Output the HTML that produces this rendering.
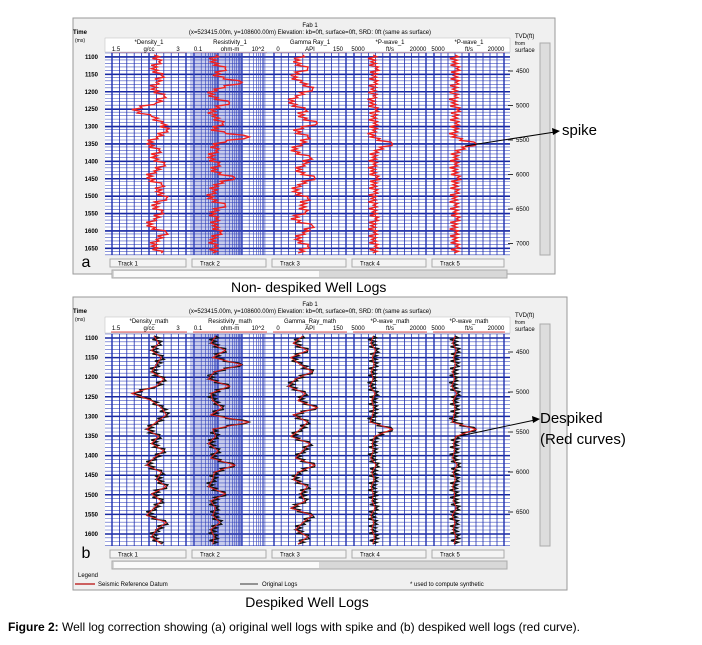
<!DOCTYPE html>
<html><head><meta charset="utf-8"><style>
body{margin:0;background:#fff;width:702px;height:640px;overflow:hidden;font-family:"Liberation Sans",sans-serif}
svg text{font-family:"Liberation Sans",sans-serif}
</style></head><body>
<svg id="fig" width="702" height="640" xmlns="http://www.w3.org/2000/svg">
<text x="307" y="607" font-size="14" text-anchor="middle">Despiked Well Logs</text>
<text x="231" y="292" font-size="14" text-anchor="start">Non- despiked Well Logs</text>
<text x="8" y="631" font-size="12"><tspan font-weight="bold">Figure 2:</tspan> Well log correction showing (a) original well logs with spike and (b) despiked well logs (red curve).</text>
<text x="562" y="135" font-size="15">spike</text>
<line x1="465" y1="146" x2="555" y2="132" stroke="#000" stroke-width="1"/>
<polygon points="560,131 552,128 553,135" fill="#000"/>
<text x="540" y="423" font-size="15">Despiked</text>
<text x="540" y="444" font-size="15">(Red curves)</text>
<line x1="460" y1="436" x2="535" y2="420" stroke="#000"/>
<polygon points="540,419 532,416 533,423" fill="#000"/>
</svg>
<script>
const density=[2.35,2.45,2.3,2.5,2.4,2.3,2.55,2.4,1.9,2.3,2.5,2.6,2.4,2.2,2.45,2.3,2.55,2.35,2.2,2.5,2.4,2.6,2.3,2.5,2.35,2.2,2.6,2.4,2.3,2.5];
const resistivity=[0.8,0.5,2,0.6,10,0.7,0.4,3,0.5,0.6,1.5,0.5,20,0.6,0.8,0.4,1,0.5,5,0.7,0.6,0.4,2,0.5,0.8,0.6,1.2,0.5,0.7,0.6];
const gammaRay=[60,40,70,35,55,80,45,30,65,50,90,40,70,55,35,75,60,45,85,50,40,70,55,65,35,80,60,45,70,50];
const pwave1=[9000,8500,9500,8800,9200,8600,9000,8300,9400,8700,9100,8900,8400,13000,9300,8800,9000,8500,9600,8700,9200,8600,9000,8800,9400,8500,9100,8700,9300,8900];
const pwave2=[9500,9000,9800,9200,9600,9000,9400,8800,9900,9100,9500,9300,8900,14000,9700,9200,9400,9000,10000,9100,9600,9000,9400,9200,9800,8900,9500,9100,9700,9300];
const trackNamesA=["*Density_1","Resistivity_1","Gamma Ray_1","*P-wave_1","*P-wave_1"];
const trackNamesB=["*Density_math","Resistivity_math","Gamma_Ray_math","*P-wave_math","*P-wave_math"];
const unitsMin=["1.5","0.1","0","5000","5000"],unitsMid=["g/cc","ohm-m","API","ft/s","ft/s"],unitsMax=["3","10^2","150","20000","20000"];
const timeTicksA=[1100,1150,1200,1250,1300,1350,1400,1450,1500,1550,1600,1650];
const timeTicksB=[1100,1150,1200,1250,1300,1350,1400,1450,1500,1550,1600];
const tvdTicks=[4500,5000,5500,6000,6500,7000];
const NS="http://www.w3.org/2000/svg",svg=document.getElementById('fig');
function E(t,a,p){const e=document.createElementNS(NS,t);for(const k in a)e.setAttribute(k,a[k]);(p||svg).appendChild(e);return e}
function T(x,y,s,txt,anc,p,w){const e=E('text',{x:x,y:y,'font-size':s,'text-anchor':anc||'middle','font-weight':w||'normal'},p);e.textContent=txt;return e}
const tracks=[[108,190],[190,270],[270,350],[350,430],[430,508]];
function scale(i,v){const [a,b]=tracks[i];let f;
 if(i==0)f=(v-1.5)/1.5;else if(i==1)f=(Math.log10(v)+1)/3;else if(i==2)f=v/150;else f=(v-5000)/15000;
 return a+4+f*(b-a-8);}
function panel(o){
 const g=document.createElementNS(NS,'g');svg.insertBefore(g,svg.firstChild);
 
 
 E('rect',{x:o.x0,y:o.y0,width:o.x1-o.x0,height:o.y1-o.y0,fill:'#f0f0f0',stroke:'#999'},g);
 T(310,o.y0+9,6,'Fab 1','middle',g);
 T(310,o.y0+16,6,'(x=523415.00m, y=108600.00m) Elevation: kb=0ft, surface=0ft, SRD: 0ft (same as surface)','middle',g);
 T(80,o.y0+16,6,'Time','middle',g,'bold');T(80,o.y0+24,5,'(ms)','middle',g);
 T(515,o.y0+20,6,'TVD(ft)','start',g);T(515,o.y0+27,5,'from','start',g);T(515,o.y0+34,6,'surface','start',g);
 E('rect',{x:105,y:o.y0+20,width:405,height:o.gt-o.y0-21,fill:'#fff',stroke:'#bbb','stroke-width':0.5},g);
 for(let i=0;i<5;i++){const [a,b]=tracks[i];
  T((a+b)/2,o.y0+26,6,o.names[i],'middle',g);
  T(a+8,o.y0+33,6,unitsMin[i],'middle',g);T((a+b)/2,o.y0+33,6,unitsMid[i],'middle',g);T(b-12,o.y0+33,6,unitsMax[i],'middle',g);
  E('line',{x1:a+3,x2:b-3,y1:o.y0+35,y2:o.y0+35,stroke:'#e05050','stroke-width':1},g);}
 E('rect',{x:105,y:o.gt,width:405,height:o.gb-o.gt,fill:'#fff'},g);
 E('rect',{x:190,y:o.gt,width:52,height:o.gb-o.gt,fill:'#c8ccec'},g);
 const py=t=>o.gt+4+(t-1100)/50*o.ppm;
 for(let y=o.gt;y<=o.gb;y+=o.ppm/5)E('line',{x1:105,x2:510,y1:y,y2:y,stroke:'#4050c0','stroke-width':0.6},g);
 for(const t of o.ticks){const y=py(t);E('line',{x1:105,x2:510,y1:y,y2:y,stroke:'#1828a0','stroke-width':1.5},g);T(98,y+2,6,t,'end',g,'bold');}
 for(let i=0;i<5;i++){const [a,b]=tracks[i];
  if(i==1){for(let d=0;d<3;d++)for(let k=1;k<10;k++){const x=a+4+(d+Math.log10(k))/3*(b-a-8);E('line',{x1:x,x2:x,y1:o.gt,y2:o.gb,stroke:'#3040b8','stroke-width':k==1?1.4:0.6},g);}}
  else for(let k=0;k<=10;k++){const x=a+4+k/10*(b-a-8);E('line',{x1:x,x2:x,y1:o.gt,y2:o.gb,stroke:'#2030b0','stroke-width':k%5==0?1.4:0.8},g);}}
 for(let k=0;k<tvdTicks.length&&k<o.tvdN;k++){const y=o.gt+18+k*o.tvdStep;E('line',{x1:508,x2:513,y1:y,y2:y,stroke:'#333'},g);T(516,y+2,6,tvdTicks[k],'start',g);}
 const series=[density,resistivity,gammaRay,pwave1,pwave2];
 const span=o.gb-o.gt-4;
 series.forEach((s,i)=>{let pts=[];const step=span/(s.length-1);
  s.forEach((v,j)=>{const y=o.gt+2+j*step;const x=scale(i,v);pts.push(x+','+y);
   if(j<s.length-1){const xn=scale(i,s[j+1]);for(let q=1;q<4;q++){const xx=x+(xn-x)*q/4+(q%2?4:-4);pts.push(xx+','+(y+step*q/4));}}});
  const pl=E('polyline',{points:pts.join(' '),fill:'none',stroke:o.main,'stroke-width':1.4},g);
  
  
  if(o.overlay){const p2=s.map((v,j)=>scale(i,v)+','+(o.gt+2+j*step)).join(' ');E('polyline',{points:p2,fill:'none',stroke:'#e02020','stroke-width':1},g);}});
 for(let i=0;i<5;i++){const [a,b]=tracks[i];const btn=E('rect',{x:a+2,y:o.gb+4,width:b-a-6,height:8,fill:'#f4f4f4',stroke:'#aaa'},g);
  
  T(a+10,o.gb+10.5,6,'Track '+(i+1),'start',g);}
 E('rect',{x:112,y:o.gb+15,width:395,height:8,fill:'#d8d8d8',stroke:'#aaa'},g);
 E('rect',{x:114,y:o.gb+16,width:205,height:6,fill:'#fafafa'},g);
 E('rect',{x:540,y:o.gt-10,width:10,height:o.gb-o.gt+10,fill:'#ddd',stroke:'#aaa'},g);
 T(86,o.gb+12,16,o.label,'middle',g);
 if(o.legend){T(78,o.gb+31,6,'Legend','start',g);E('line',{x1:75,x2:95,y1:o.gb+38,y2:o.gb+38,stroke:'#c03030','stroke-width':1.5},g);
  T(98,o.gb+40,6,'Seismic Reference Datum','start',g);E('line',{x1:240,x2:258,y1:o.gb+38,y2:o.gb+38,stroke:'#333'},g);
  T(262,o.gb+40,6,'Original Logs','start',g);T(410,o.gb+40,6,'*  used to compute synthetic','start',g);}
}
panel({name:'panel-a',x0:73,y0:18,x1:555,y1:274,gt:53,gb:255,ppm:17.4,ticks:timeTicksA,names:trackNamesA,main:'#f02020',overlay:false,label:'a',legend:false,tvdN:6,tvdStep:34.5});
panel({name:'panel-b',x0:73,y0:297,x1:567,y1:590,gt:334,gb:546,ppm:19.6,ticks:timeTicksB,names:trackNamesB,main:'#111',overlay:true,label:'b',legend:true,tvdN:5,tvdStep:40});
</script>
</body></html>
